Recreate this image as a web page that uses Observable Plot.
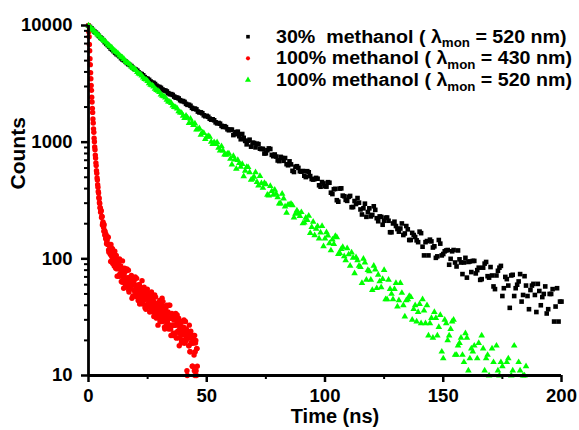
<!DOCTYPE html>
<html>
<head>
<meta charset="utf-8">
<script src="https://cdn.jsdelivr.net/npm/d3@7"></script>
<script src="https://cdn.jsdelivr.net/npm/@observablehq/plot@0.6"></script>
<style>
  body { margin: 0; background: #fff; }
  #wrap { position: relative; width: 579px; height: 430px; overflow: hidden; }
  #wrap svg { display: block; }
</style>
</head>
<body>
<div id="wrap"></div>
<script>
// ---- data ----
// time channels (ns) for the 520 nm decays: whole channels and in-between channels
const timeNs = [0,1.25,2.5,3.75,5,6.25,7.5,8.75,10,11.25,12.5,13.75,15,16.25,17.5,18.75,20,21.25,22.5,23.75,25,26.25,27.5,28.75,30,31.25,32.5,33.75,35,36.25,37.5,38.75,40,41.25,42.5,43.75,45,46.25,47.5,48.75,50,51.25,52.5,53.75,55,56.25,57.5,58.75,60,61.25,62.5,63.75,65,66.25,67.5,68.75,70,71.25,72.5,73.75,75,76.25,77.5,78.75,80,81.25,82.5,83.75,85,86.25,87.5,88.75,90,91.25,92.5,93.75,95,96.25,97.5,98.75,100,101.25,102.5,103.75,105,106.25,107.5,108.75,110,111.25,112.5,113.75,115,116.25,117.5,118.75,120,121.25,122.5,123.75,125,126.25,127.5,128.75,130,131.25,132.5,133.75,135,136.25,137.5,138.75,140,141.25,142.5,143.75,145,146.25,147.5,148.75,150,151.25,152.5,153.75,155,156.25,157.5,158.75,160,161.25,162.5,163.75,165,166.25,167.5,168.75,170,171.25,172.5,173.75,175,176.25,177.5,178.75,180,181.25,182.5,183.75,185,186.25,187.5,188.75,190,191.25,192.5,193.75,195,196.25,197.5,198.75,200];
const timeNsHalf = [0.625,1.875,3.125,4.375,5.625,6.875,8.125,9.375,10.625,11.875,13.125,14.375,15.625,16.875,18.125,19.375,20.625,21.875,23.125,24.375,25.625,26.875,28.125,29.375,30.625,31.875,33.125,34.375,35.625,36.875,38.125,39.375,40.625,41.875,43.125,44.375,45.625,46.875,48.125,49.375,50.625,51.875,53.125,54.375,55.625,56.875,58.125,59.375,60.625,61.875,63.125,64.375,65.625,66.875,68.125,69.375,70.625,71.875,73.125,74.375,75.625,76.875,78.125,79.375,80.625,81.875,83.125,84.375,85.625,86.875,88.125,89.375,90.625,91.875,93.125,94.375,95.625,96.875,98.125,99.375,100.625,101.875,103.125,104.375,105.625,106.875,108.125,109.375,110.625,111.875,113.125,114.375,115.625,116.875,118.125,119.375,120.625,121.875,123.125,124.375,125.625,126.875,128.125,129.375,130.625,131.875,133.125,134.375,135.625,136.875,138.125,139.375,140.625,141.875,143.125,144.375,145.625,146.875,148.125,149.375,150.625,151.875,153.125,154.375,155.625,156.875,158.125,159.375,160.625,161.875,163.125,164.375,165.625,166.875,168.125,169.375,170.625,171.875,173.125,174.375,175.625,176.875,178.125,179.375,180.625,181.875,183.125,184.375,185.625,186.875,188.125,189.375,190.625,191.875,193.125,194.375,195.625,196.875,198.125,199.375];

// 30% methanol, lambda_mon = 520 nm (black squares)
const counts30_520 = [9950,9460,8880,8440,7910,7480,6970,6590,6190,5830,5580,5250,5030,4770,4590,4340,4190,3960,3830,3610,3490,3310,3220,3050,2970,2830,2770,2630,2580,2460,2410,2290,2250,2130,2090,1970,1940,1830,1800,1700,1680,1590,1570,1480,1460,1380,1370,1290,
1280,1150,1220,1125,1175,1025,1027,915,984,971,879,877,803,884,778,784,697,748,692,648,685,568,615,602,559,516,564,512,478,494,427,455,
419,454,369,395,318,400,348,320,340,277,313,332,265,271,229,271,238,263,210,229,212,226,169,201,191,171,201,165,179,145,160,144,
171,127,139,107,141,128,105,135,110,118,89,116,93,118,93,93,69,95,96,75,84,67,91,71,85,58,72,84,48,70,59,72,
48,60,74,49,59,37,59,49,61,40,50,34,50,55,39,29,43];
const counts30_520Half = [9720,9150,8680,8150,7720,7200,6800,6350,6030,5680,5440,5120,4920,4660,4490,4240,4100,3870,3740,3530,3420,3240,3150,2990,2920,2780,2720,2580,2540,2410,2370,2250,2210,2090,2050,1930,1910,1800,1770,1670,1650,1560,1540,1450,1440,1350,1345,1265,
1281,1171,1230,1059,1089,958,1050,990,902,961,873,799,853,874,758,753,688,732,731,634,645,555,622,563,566,502,552,483,483,486,415,443,
416,449,359,398,309,402,344,314,346,278,295,303,240,297,252,231,282,223,231,196,225,212,169,208,180,182,160,191,145,167,154,139,
166,107,142,146,125,102,145,107,116,119,100,119,86,99,74,102,94,77,96,80,66,84,94,69,72,55,79,87,56,67,38,73,
56,64,43,71,48,54,61,35,53,47,58,37,50,29,56,43];

// 100% methanol, lambda_mon = 520 nm (green triangles), channels up to 185 ns
const counts100_520 = [10000,9420,8930,8390,7960,7490,7150,6700,6410,6010,5750,5380,5160,4820,4630,4320,4150,3870,3720,3470,3340,3100,2990,2790,2690,2490,2410,2230,2160,2000,1940,1790,
1684,1686,1460,1470,1441,1286,1153,1199,1109,1112,965,961,895,921,782,794,720,761,591,660,649,567,610,476,505,454,512,405,435,348,380,390,336,297,329,248,290,288,243,247,
251,204,215,166,208,181,149,191,149,158,118,134,153,112,126,97,109,113,75,97,85,100,66,78,54,81,73,57,80,45,55,45,62,44,51,32,45,47,37,29,
41,45,28,22,31,35,22,33,14,28,22,29,15,18,21,13,21,14,16,9,19,22,11,15,8,13,18,10,12,7,14,10,18,7,11,10,12];
const counts100_520Half = [9700,9200,8620,8200,7700,7350,6900,6580,6180,5900,5540,5300,4960,4750,4440,4260,3980,3820,3570,3430,3200,3070,2860,2760,2560,2470,2300,2220,2060,1990,1840,1780,
1612,1615,1583,1402,1279,1313,1209,1062,1129,1006,998,996,845,845,779,798,642,710,703,615,509,612,552,484,552,424,443,446,354,420,353,361,297,360,281,291,296,226,259,233,
201,225,234,187,159,190,168,128,169,136,146,157,110,121,105,123,87,102,103,87,62,93,80,66,87,56,64,67,45,66,50,55,39,62,40,44,48,30,40,35,
28,36,40,28,21,31,26,16,30,20,25,30,15,19,15,23,11,17,18,14,8,17,14,10,17,8,11,13,6,13,9,11,6,13,7,10];

// 100% methanol, lambda_mon = 430 nm (red circles), its own time channels
const timeNs430 = [0,0.125,0.25,0.375,0.5,0.625,0.75,0.875,1,1.125,1.25,1.375,1.5,1.625,1.75,1.875,2,2.125,2.25,2.375,2.5,2.625,2.75,2.875,3,3.125,3.25,3.375,3.5,3.625,3.75,3.875,4,4.125,4.25,4.375,4.5,4.625,4.75,4.875,5,
5.25,5.5,5.75,6,6.25,6.5,6.75,7,7.25,7.5,7.75,8,8.25,8.5,8.75,9,9.25,9.5,9.75,10,10.25,10.5,10.75,11,11.25,11.5,11.75,12,12.25,12.5,12.75,13,13.25,13.5,13.75,14,14.25,14.5,14.75,15,15.25,15.5,15.75,16,16.25,16.5,16.75,17,17.25,17.5,17.75,18,18.25,18.5,18.75,19,19.25,19.5,19.75,20,20.25,20.5,20.75,21,21.25,21.5,21.75,22,22.25,22.5,22.75,23,23.25,23.5,23.75,24,24.25,24.5,24.75,25,25.25,25.5,25.75,26,26.25,26.5,26.75,27,27.25,27.5,27.75,28,28.25,28.5,28.75,29,29.25,29.5,29.75,30,30.25,30.5,30.75,31,31.25,31.5,31.75,32,32.25,32.5,32.75,33,33.25,33.5,33.75,34,34.25,34.5,34.75,35,35.25,35.5,35.75,36,36.25,36.5,36.75,37,37.25,37.5,37.75,38,38.25,38.5,38.75,39,39.25,39.5,39.75,40,40.25,40.5,40.75,41,41.25,41.5,41.75,42,42.25,42.5,42.75,43,43.25,43.5,43.75,44,44.25,44.5,44.75,45,45.25,45.5,45.75,46];
const counts100_430 = [10000,8850,8010,6870,6080,5190,4620,3940,3500,3060,2780,2430,2210,1950,1800,1580,1460,1300,1215,1080,1010,910,860,775,730,665,630,570,542,494,473,431,411,378,367,336,328,303,298,276,272,
257,226,231,201,201,172,175,172,149,154,141,155,133,119,132,123,109,133,107,116,91,106,111,94,95,83,107,82,91,83,94,71,83,86,72,78,63,80,70,77,
83,61,69,63,82,63,69,54,69,62,56,70,59,64,48,60,64,53,70,48,57,52,59,44,53,60,47,54,49,42,55,48,44,57,45,49,37,49,45,41,
51,39,44,47,36,42,49,38,35,43,39,49,35,40,31,40,36,42,34,37,29,40,34,38,29,43,31,35,25,33,38,29,31,26,34,40,27,31,25,31,
34,27,22,30,27,31,23,27,21,33,24,27,21,28,23,29,19,24,26,20,26,19,23,29,20,21,10,22,23,18,21,16,24,19,21,12,19,22,11,10,19,11,17,12];
const timeNs430Half = [5.125,5.375,5.625,5.875,6.125,6.375,6.625,6.875,7.125,7.375,7.625,7.875,8.125,8.375,8.625,8.875,9.125,9.375,9.625,9.875,10.125,10.375,10.625,10.875,11.125,11.375,11.625,11.875,12.125,12.375,12.625,12.875,13.125,13.375,13.625,13.875,14.125,14.375,14.625,14.875,15.125,15.375,15.625,15.875,16.125,16.375,16.625,16.875,17.125,17.375,17.625,17.875,18.125,18.375,18.625,18.875,19.125,19.375,19.625,19.875,20.125,20.375,20.625,20.875,21.125,21.375,21.625,21.875,22.125,22.375,22.625,22.875,23.125,23.375,23.625,23.875,24.125,24.375,24.625,24.875,25.125,25.375,25.625,25.875,26.125,26.375,26.625,26.875,27.125,27.375,27.625,27.875,28.125,28.375,28.625,28.875,29.125,29.375,29.625,29.875,30.125,30.375,30.625,30.875,31.125,31.375,31.625,31.875,32.125,32.375,32.625,32.875,33.125,33.375,33.625,33.875,34.125,34.375,34.625,34.875,35.125,35.375,35.625,35.875,36.125,36.375,36.625,36.875,37.125,37.375,37.625,37.875,38.125,38.375,38.625,38.875,39.125,39.375,39.625,39.875,40.125,40.375,40.625,40.875,41.125,41.375,41.625,41.875,42.125,42.375,42.625,42.875,43.125,43.375,43.625,43.875,44.125,44.375,44.625,44.875,45.125,45.375,45.625,45.875];
const counts100_430Half = [251,259,230,195,207,186,196,160,160,163,135,146,133,153,114,133,122,95,124,104,122,96,105,87,116,93,85,100,71,93,85,72,100,75,87,64,78,96,67,56,
75,80,67,58,79,66,58,80,52,65,66,59,72,46,61,65,54,48,68,49,59,68,47,54,49,60,41,57,52,44,65,41,51,47,54,38,47,49,40,55,
40,51,45,35,47,41,52,36,40,46,32,42,37,47,32,41,38,27,41,34,44,31,37,29,46,33,30,39,26,35,33,27,40,29,35,25,31,40,27,22,
31,33,27,23,33,27,23,34,21,28,29,24,31,18,25,28,22,20,29,20,25,30,19,22,20,25,11,24,21,18,27,16,21,19,22,12,19,20,15,22,16,20,10,17];

const xTicks = [0, 50, 100, 150, 200];
const xMinorTicks = [25, 75, 125, 175];
const yTicks = [10, 100, 1000, 10000];
const yMinorTicks = [20,30,40,50,60,70,80,90,200,300,400,500,600,700,800,900,2000,3000,4000,5000,6000,7000,8000,9000];

const seriesNames = ["30%\u00a0 methanol", "100% methanol", "100% methanol"];
const seriesWavelengths = ["520 nm", "430 nm", "520 nm"];
const seriesColors = ["#000000", "#ff0000", "#00ff00"];
const xTitle = "Time (ns)";
const yTitle = "Counts";

// ---- tables ----
const pairs = (times, counts) => counts.map((c, i) => ({t: times[i], c})).filter(d => d.c >= 10);
const black = pairs(timeNs, counts30_520).concat(pairs(timeNsHalf, counts30_520Half));
const green = pairs(timeNs, counts100_520).concat(pairs(timeNsHalf, counts100_520Half));
const red = pairs(timeNs430, counts100_430).concat(pairs(timeNs430Half, counts100_430Half));

const FONT = "'Liberation Sans', Arial, Helvetica, sans-serif";

const chart = Plot.plot({
  width: 579,
  height: 430,
  marginLeft: 88,
  marginRight: 18,
  marginTop: 25,
  marginBottom: 55,
  style: {fontFamily: FONT, fontWeight: "bold", color: "#000", background: "#fff", overflow: "visible"},
  x: {domain: [0, 200]},
  y: {type: "log", domain: [10, 10000]},
  marks: [
    Plot.dot(black, {x: "t", y: "c", symbol: "square", r: 2.6, fill: seriesColors[0]}),
    Plot.dot(red, {x: "t", y: "c", symbol: "circle", r: 2.7, fill: seriesColors[1]}),
    Plot.dot(green, {x: "t", y: "c", symbol: "triangle", r: 2.45, fill: seriesColors[2]}),
    Plot.axisX(xMinorTicks, {tickSize: 4, strokeWidth: 2, tickFormat: () => "", label: null}),
    Plot.axisX(xTicks, {tickSize: 7, tickPadding: 6, strokeWidth: 2.5, fontSize: 18.5, fontWeight: "bold", tickFormat: d => String(d), label: null}),
    Plot.axisY(yMinorTicks, {tickSize: 4, strokeWidth: 2, tickFormat: () => "", label: null}),
    Plot.axisY(yTicks, {tickSize: 7, tickPadding: 9, strokeWidth: 2.5, fontSize: 18.5, fontWeight: "bold", tickFormat: d => String(d), label: null}),
    Plot.ruleX([0], {stroke: "#000", strokeWidth: 2.8}),
    Plot.ruleY([10], {stroke: "#000", strokeWidth: 2.8}),
    Plot.text([xTitle], {text: d => d, frameAnchor: "bottom", dx: 10, dy: 47.5, fontSize: 20, fontWeight: "bold"}),
    Plot.text([yTitle], {text: d => d, frameAnchor: "left", rotate: -90, dx: -70, dy: -11, fontSize: 21, fontWeight: "bold"})
  ]
});

const wrap = document.getElementById("wrap");
wrap.appendChild(chart);

// ---- legend overlay (inside the plot area, top right) ----
const leg = d3.select(wrap).append("svg")
  .attr("width", 579).attr("height", 430)
  .style("position", "absolute").style("left", "0px").style("top", "0px")
  .style("pointer-events", "none");

const legSymbols = [d3.symbolSquare, d3.symbolCircle, d3.symbolTriangle];
const legSizes = [13, 13, 16];
seriesNames.forEach((name, i) => {
  const base = 42.7 + i * 21.65;
  leg.append("path")
    .attr("d", d3.symbol(legSymbols[i], legSizes[i])())
    .attr("transform", `translate(248,${base - 6})`)
    .attr("fill", seriesColors[i]);
  const g = leg.append("g").attr("transform", `translate(276,${base}) scale(1.11,1)`);
  const t = g.append("text")
    .attr("font-family", FONT).attr("font-weight", "bold").attr("font-size", 17.7)
    .attr("fill", "#000").style("white-space", "pre");
  t.append("tspan").text(`${name} ( \u03bb`);
  t.append("tspan").attr("font-size", 12).attr("dy", 4.5).text("mon");
  t.append("tspan").attr("dy", -4.5).text(` = ${seriesWavelengths[i]})`);
});
</script>
</body>
</html>
